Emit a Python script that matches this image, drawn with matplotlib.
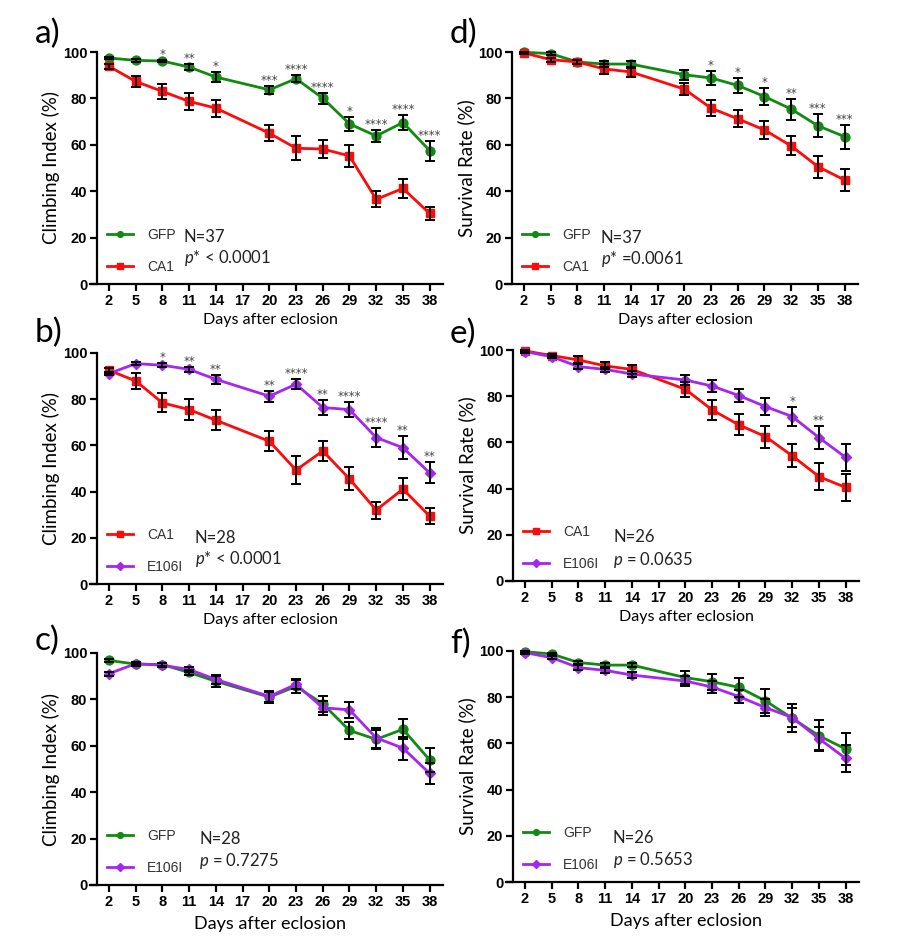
import matplotlib
matplotlib.use("Agg")
import matplotlib.pyplot as plt
from matplotlib.lines import Line2D

# ---------------- data ----------------
days = [2, 5, 8, 11, 14, 20, 23, 26, 29, 32, 35, 38]
xticks = [2, 5, 8, 11, 14, 17, 20, 23, 26, 29, 32, 35, 38]
yticks = [0, 20, 40, 60, 80, 100]

a_gfp = [97.4, 96.4, 96.1, 93.5, 89.2, 83.7, 88.5, 80.1, 69.0, 63.8, 69.6, 57.5]
a_gfp_err = [0.6, 0.6, 0.6, 1.4, 2.0, 1.6, 1.4, 2.4, 3.0, 2.5, 3.2, 4.3]
a_ca1 = [93.8, 87.3, 83.0, 78.7, 75.8, 65.0, 58.5, 58.2, 55.2, 36.5, 41.2, 30.4]
a_ca1_err = [1.0, 2.5, 3.4, 3.6, 3.7, 3.5, 5.2, 3.7, 4.7, 3.4, 4.0, 3.0]
a_stars = ['', '', '*', '**', '*', '***', '****', '****', '*', '****', '****', '****']

d_gfp = [99.9, 99.3, 95.7, 94.8, 94.8, 90.2, 88.8, 85.6, 80.8, 75.4, 68.2, 63.5]
d_gfp_err = [0.3, 0.5, 1.0, 1.2, 1.5, 2.2, 2.9, 3.2, 3.7, 4.5, 5.0, 5.2]
d_ca1 = [99.6, 96.7, 95.7, 92.7, 91.4, 84.0, 75.8, 71.2, 66.4, 59.5, 50.6, 44.8]
d_ca1_err = [0.4, 0.8, 1.0, 2.0, 2.0, 2.7, 3.4, 3.6, 3.9, 4.1, 4.7, 4.9]
d_stars = ['', '', '', '', '', '', '*', '*', '*', '**', '***', '***']

b_ca1 = [92.5, 87.9, 78.4, 75.5, 70.9, 61.8, 49.3, 57.6, 45.5, 32.0, 41.1, 29.4]
b_ca1_err = [1.0, 3.4, 4.1, 4.7, 4.3, 4.3, 5.9, 4.2, 5.0, 3.7, 4.8, 3.5]
b_e106i = [91.1, 95.4, 94.7, 92.9, 88.6, 81.3, 86.5, 76.4, 75.5, 63.4, 59.0, 48.1]
b_e106i_err = [0.8, 0.6, 0.8, 1.0, 2.0, 2.4, 2.2, 3.1, 3.4, 4.2, 5.0, 4.5]
b_stars = ['', '', '*', '**', '**', '**', '****', '**', '****', '****', '**', '**']

e_ca1 = [99.6, 97.6, 95.7, 93.1, 91.6, 83.0, 74.1, 67.6, 62.5, 54.2, 45.2, 40.5]
e_ca1_err = [0.4, 0.8, 1.5, 1.5, 2.0, 3.3, 4.3, 4.6, 4.8, 5.0, 5.9, 6.0]
e_e106i = [99.3, 97.1, 92.8, 91.6, 89.6, 87.0, 84.4, 80.3, 75.5, 71.2, 62.1, 53.5]
e_e106i_err = [0.5, 0.7, 1.0, 1.0, 1.2, 2.2, 2.5, 3.0, 3.7, 4.2, 5.0, 6.0]
e_stars = ['', '', '', '', '', '', '', '', '', '*', '**', '']

c_gfp = [96.8, 95.2, 95.0, 91.6, 87.8, 81.0, 85.6, 78.1, 66.6, 62.8, 67.1, 53.9]
c_gfp_err = [0.6, 0.6, 0.6, 1.0, 2.5, 2.4, 2.7, 3.4, 3.6, 4.0, 4.3, 5.3]
c_e106i = b_e106i
c_e106i_err = b_e106i_err

f_gfp = [99.7, 98.7, 95.0, 93.9, 93.9, 88.5, 86.7, 84.3, 78.4, 70.9, 63.3, 57.6]
f_gfp_err = [0.3, 0.5, 0.8, 0.8, 0.8, 3.0, 3.5, 4.2, 5.2, 6.0, 6.8, 7.0]
f_e106i = e_e106i
f_e106i_err = e_e106i_err

# ---------------- style ----------------
GREEN = '#128a12'
RED = '#ff0a0a'
PURPLE = '#a626f0'
STYLES = {
    'GFP': dict(color=GREEN, marker='o', ms=6.4),
    'CA1': dict(color=RED, marker='s', ms=6.0),
    'E106I': dict(color=PURPLE, marker='D', ms=5.6),
}

plt.rcParams['mathtext.fontset'] = 'custom'
plt.rcParams['mathtext.it'] = 'Lato:italic'
plt.rcParams['mathtext.rm'] = 'Lato'

W, H = 900, 944
fig = plt.figure(figsize=(W / 100, H / 100), dpi=100)


def px_axes(left, top, bottom, width=346):
    return fig.add_axes([left / W, 1 - bottom / H, width / W, (bottom - top) / H])


def panel(ax, s1, s2, ylabel, n_text, p_text, stars, big_xlabel=False,
          ntxt_pos=(0.26, 0.20), ptxt_pos=(0.26, 0.11)):
    (name1, m1, e1), (name2, m2, e2) = s1, s2
    handles = []
    for z, (name, m, e) in enumerate([(name1, m1, e1), (name2, m2, e2)]):
        st = STYLES[name]
        ax.plot(days, m, color=st['color'], marker=st['marker'], ms=st['ms'],
                lw=2.0, zorder=3 + z, clip_on=False)
        ax.errorbar(days, m, yerr=e, fmt='none', ecolor='black', elinewidth=1.4,
                    capsize=3.5, capthick=1.4, zorder=6, clip_on=False)
        handles.append(Line2D([], [], color=st['color'], marker=st['marker'],
                              ms=st['ms'] * 0.65, lw=2.0, label=name))
    # significance stars above highest bar
    for i, s in enumerate(stars):
        if s:
            top = max(m1[i] + e1[i], m2[i] + e2[i])
            ax.annotate(s, (days[i], top), xytext=(0, 1.5), textcoords='offset points',
                        ha='center', va='baseline', fontsize=8.5, color='#444444',
                        family='DejaVu Sans')
    ax.set_xlim(0.65, 39.5)
    ax.set_ylim(0, 100)
    ax.set_xticks(xticks)
    ax.set_yticks(yticks)
    for sp in ['top', 'right']:
        ax.spines[sp].set_visible(False)
    for sp in ['left', 'bottom']:
        ax.spines[sp].set_linewidth(1.6)
    ax.spines['bottom'].set_bounds(-0.15, 39.5)
    ax.tick_params(axis='both', length=5, width=1.6, pad=2)
    for lab in ax.get_xticklabels() + ax.get_yticklabels():
        lab.set_fontfamily('Liberation Sans')
        lab.set_fontweight('bold')
        lab.set_fontsize(10.5)
    ax.set_ylabel(ylabel, family='Lato', fontsize=13.5, labelpad=2)
    ax.set_xlabel('Days after eclosion', family='Lato',
                  fontsize=13 if big_xlabel else 11.5, labelpad=5 if big_xlabel else 4)
    leg = ax.legend(handles=handles, loc='lower left', bbox_to_anchor=(0.0, 0.0),
                    frameon=False, handlelength=1.9, handletextpad=1.0,
                    labelspacing=1.35, borderpad=0.2,
                    prop={'family': 'Liberation Sans', 'size': 10})
    for t in leg.get_texts():
        t.set_color('#333333')
    ax.text(ntxt_pos[0], ntxt_pos[1], n_text, transform=ax.transAxes, family='Lato',
            fontsize=12, color='#222222', va='center', ha='left')
    ax.text(ptxt_pos[0], ptxt_pos[1], p_text, transform=ax.transAxes, family='Lato',
            fontsize=12, color='#222222', va='center', ha='left')


ax_a = px_axes(97, 52, 284)
panel(ax_a, ('GFP', a_gfp, a_gfp_err), ('CA1', a_ca1, a_ca1_err), 'Climbing Index (%)',
      'N=37', r'$p$* < 0.0001', a_stars, ntxt_pos=(0.251, 0.203), ptxt_pos=(0.251, 0.112))

ax_d = px_axes(512, 52, 284)
panel(ax_d, ('GFP', d_gfp, d_gfp_err), ('CA1', d_ca1, d_ca1_err), 'Survival Rate (%)',
      'N=37', r'$p$* =0.0061', d_stars, ntxt_pos=(0.257, 0.198), ptxt_pos=(0.257, 0.108))

ax_b = px_axes(97, 353, 584)
panel(ax_b, ('CA1', b_ca1, b_ca1_err), ('E106I', b_e106i, b_e106i_err), 'Climbing Index (%)',
      'N=28', r'$p$* < 0.0001', b_stars, ntxt_pos=(0.283, 0.199), ptxt_pos=(0.283, 0.108))

ax_e = px_axes(513, 350, 581)
panel(ax_e, ('CA1', e_ca1, e_ca1_err), ('E106I', e_e106i, e_e106i_err), 'Survival Rate (%)',
      'N=26', r'$p$ = 0.0635', e_stars, ntxt_pos=(0.29, 0.19), ptxt_pos=(0.29, 0.091))

ax_c = px_axes(97, 653, 885)
panel(ax_c, ('GFP', c_gfp, c_gfp_err), ('E106I', c_e106i, c_e106i_err), 'Climbing Index (%)',
      'N=28', r'$p$ = 0.7275', [''] * 12, big_xlabel=True,
      ntxt_pos=(0.295, 0.198), ptxt_pos=(0.295, 0.103))

ax_f = px_axes(513, 651, 882)
panel(ax_f, ('GFP', f_gfp, f_gfp_err), ('E106I', f_e106i, f_e106i_err), 'Survival Rate (%)',
      'N=26', r'$p$ = 0.5653', [''] * 12, big_xlabel=True,
      ntxt_pos=(0.289, 0.19), ptxt_pos=(0.289, 0.095))

# panel letters
for lab, x, y in [('a)', 35, 43), ('d)', 450, 43), ('b)', 35, 342),
                  ('e)', 450, 343), ('c)', 35, 650), ('f)', 450, 653)]:
    fig.text(x / W, 1 - y / H, lab, family='Lato', fontsize=24, va='baseline', ha='left')

fig.savefig('out.png', dpi=100)
